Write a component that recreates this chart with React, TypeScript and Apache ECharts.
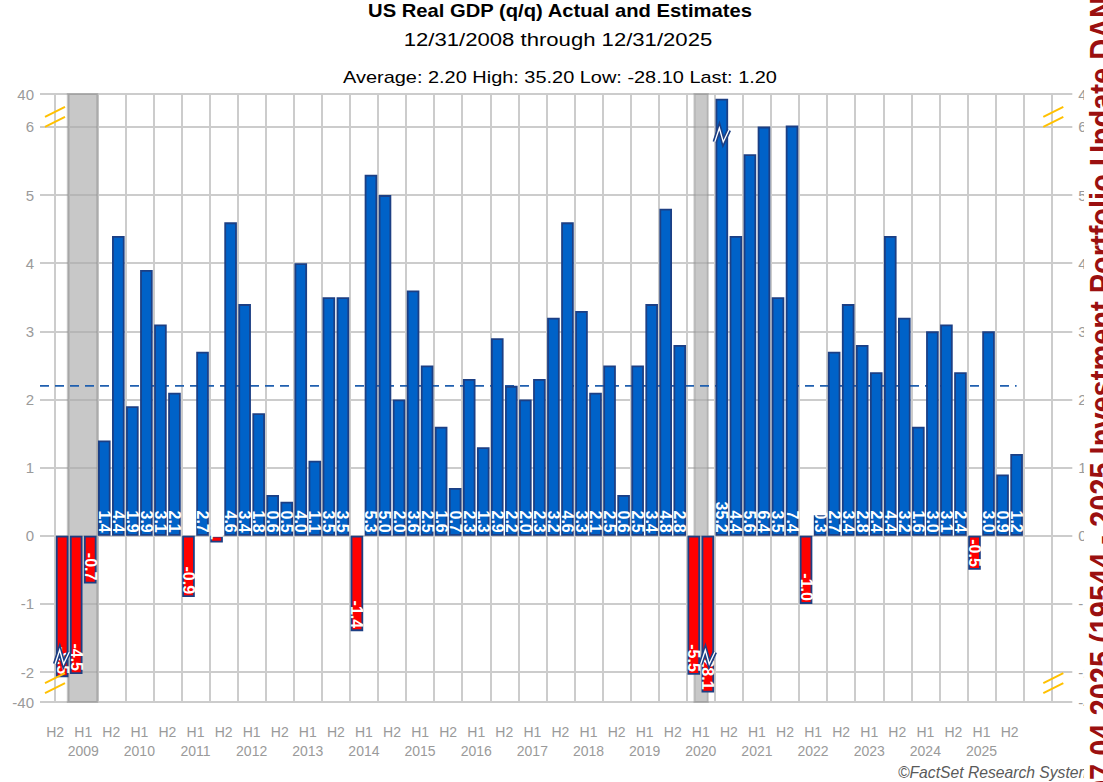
import React, { useEffect, useRef } from 'react';
import * as echarts from 'echarts';

// ---------- DATA ----------
const quarters = [
  'Q4 2008',
  'Q1 2009', 'Q2 2009', 'Q3 2009', 'Q4 2009',
  'Q1 2010', 'Q2 2010', 'Q3 2010', 'Q4 2010',
  'Q1 2011', 'Q2 2011', 'Q3 2011', 'Q4 2011',
  'Q1 2012', 'Q2 2012', 'Q3 2012', 'Q4 2012',
  'Q1 2013', 'Q2 2013', 'Q3 2013', 'Q4 2013',
  'Q1 2014', 'Q2 2014', 'Q3 2014', 'Q4 2014',
  'Q1 2015', 'Q2 2015', 'Q3 2015', 'Q4 2015',
  'Q1 2016', 'Q2 2016', 'Q3 2016', 'Q4 2016',
  'Q1 2017', 'Q2 2017', 'Q3 2017', 'Q4 2017',
  'Q1 2018', 'Q2 2018', 'Q3 2018', 'Q4 2018',
  'Q1 2019', 'Q2 2019', 'Q3 2019', 'Q4 2019',
  'Q1 2020', 'Q2 2020', 'Q3 2020', 'Q4 2020',
  'Q1 2021', 'Q2 2021', 'Q3 2021', 'Q4 2021',
  'Q1 2022', 'Q2 2022', 'Q3 2022', 'Q4 2022',
  'Q1 2023', 'Q2 2023', 'Q3 2023', 'Q4 2023',
  'Q1 2024', 'Q2 2024', 'Q3 2024', 'Q4 2024',
  'Q1 2025', 'Q2 2025', 'Q3 2025', 'Q4 2025',
];

const gdp = [
  -8.5,
  -4.5, -0.7, 1.4, 4.4,
  1.9, 3.9, 3.1, 2.1,
  -0.9, 2.7, -0.1, 4.6,
  3.4, 1.8, 0.6, 0.5,
  4.0, 1.1, 3.5, 3.5,
  -1.4, 5.3, 5.0, 2.0,
  3.6, 2.5, 1.6, 0.7,
  2.3, 1.3, 2.9, 2.2,
  2.0, 2.3, 3.2, 4.6,
  3.3, 2.1, 2.5, 0.6,
  2.5, 3.4, 4.8, 2.8,
  -5.5, -28.1, 35.2, 4.4,
  5.6, 6.4, 3.5, 7.4,
  -1.0, 0.3, 2.7, 3.4,
  2.8, 2.4, 4.4, 3.2,
  1.6, 3.0, 3.1, 2.4,
  -0.5, 3.0, 0.9, 1.2,
];

const halfLabels = [
  'H2',
  'H1', 'H2', 'H1', 'H2', 'H1', 'H2', 'H1', 'H2', 'H1', 'H2',
  'H1', 'H2', 'H1', 'H2', 'H1', 'H2', 'H1', 'H2', 'H1', 'H2',
  'H1', 'H2', 'H1', 'H2', 'H1', 'H2', 'H1', 'H2', 'H1', 'H2',
  'H1', 'H2', 'H1', 'H2',
];
const yearLabels = [
  '2009', '2010', '2011', '2012', '2013', '2014', '2015', '2016', '2017',
  '2018', '2019', '2020', '2021', '2022', '2023', '2024', '2025',
];

// recession shading, in quarter-index units (Q4 2008 starts at 0)
const recessions = [
  [0.9, 3.0],
  [45.55, 46.5],
];

// axis breaks (compressed ranges) of the value axis
const breakRanges = [
  [-40, -2],
  [6, 40],
];
const yTickValues = [-40, -2, -1, 0, 1, 2, 3, 4, 5, 6, 40];

const statNames = ['Average', 'High', 'Low', 'Last'];
const statValues = [2.2, 35.2, -28.1, 1.2];

const titleText = 'US Real GDP (q/q) Actual and Estimates';
const periodText = '12/31/2008 through 12/31/2025';
const creditText = '\u00A9FactSet Research Systems';
const watermarkText = '1/07 04 2025 (19544 - 2025 Investment Portfolio Update DAN';

// ---------- STYLE ----------
const BLUE = '#0062C8';
const RED = '#FF0000';
const BORDER = '#1C3F84';
const GRID = '#cccccc';
const LABEL = '#9a9a9a';
const BAR_W = 12.6;
const X_MIN = -1.08;
const X_MAX = 72.47;
const FONT = 'Arial, "Liberation Sans", sans-serif';

const gridXValues: number[] = [0];
for (let i = 1; i <= 71; i += 2) gridXValues.push(i);
const tickXValues: number[] = [];
for (let i = 1; i <= quarters.length; i += 2) tickXValues.push(i);
const labelXValues = halfLabels.map((_, k) => 2 * k);

const barData = gdp.map((v, i) => [i + 0.5, v]);

function deepInBreak(v: number) {
  for (const [s, e] of breakRanges) {
    if (v >= s && v <= e) {
      const inner = Math.abs(s) < Math.abs(e) ? s : e;
      return Math.abs(v - inner) / (e - s) > 0.15;
    }
  }
  return false;
}
const zigzagData = barData.filter(([, v]) => deepInBreak(v));
const breakInner = (v: number) => {
  for (const [s, e] of breakRanges) {
    const inner = Math.abs(s) < Math.abs(e) ? s : e;
    if ((v > 0 && inner > 0) || (v < 0 && inner < 0)) return inner;
  }
  return 0;
};

const statsLine = statNames
  .map((n, i) => `${n}: ${statValues[i].toFixed(2)}`)
  .join(' ');

function buildOption(): any {
  const yAxisCommon = {
    type: 'value',
    min: -40,
    max: 40,
    breaks: [
      { start: breakRanges[0][0], end: breakRanges[0][1], gap: 0.44 },
      { start: breakRanges[1][0], end: breakRanges[1][1], gap: 0.484 },
    ],
    breakArea: { show: false },
    axisLine: { show: false },
    axisTick: { show: false, customValues: yTickValues },
  };
  return {
    animation: false,
    backgroundColor: '#ffffff',
    grid: { left: 40, right: 26, top: 94, bottom: 80, containLabel: false },
    xAxis: [
      {
        type: 'value',
        min: X_MIN,
        max: X_MAX,
        axisLine: { show: false },
        axisTick: { show: false, customValues: gridXValues },
        axisLabel: { show: false },
        splitLine: { show: true, lineStyle: { color: GRID, width: 2 } },
      },
      {
        type: 'value',
        min: X_MIN,
        max: X_MAX,
        position: 'bottom',
        axisLine: { show: false },
        axisTick: {
          show: true,
          customValues: tickXValues,
          length: 15,
          lineStyle: { color: GRID, width: 2 },
        },
        axisLabel: {
          customValues: labelXValues,
          color: LABEL,
          fontSize: 14,
          fontFamily: FONT,
          lineHeight: 19,
          margin: 20,
          formatter: (v: number) => {
            const k = Math.round(v / 2);
            const h = halfLabels[k];
            if (h === 'H1') return `${h}\n${yearLabels[(k - 1) / 2]}`;
            return h;
          },
        },
        splitLine: { show: false },
      },
    ],
    yAxis: [
      {
        ...yAxisCommon,
        position: 'left',
        axisLabel: {
          customValues: yTickValues,
          color: LABEL,
          fontSize: 15,
          fontFamily: FONT,
          margin: 6,
        },
        splitLine: { show: true, lineStyle: { color: GRID, width: 2 } },
      },
      {
        ...yAxisCommon,
        position: 'right',
        axisLabel: {
          customValues: yTickValues,
          color: LABEL,
          fontSize: 15,
          fontFamily: FONT,
          margin: 6,
        },
        splitLine: { show: false },
      },
    ],
    series: [
      {
        name: 'Average',
        type: 'line',
        xAxisIndex: 0,
        yAxisIndex: 0,
        z: 1,
        symbol: 'none',
        silent: true,
        data: [
          [X_MIN, statValues[0]],
          [barData[barData.length - 1][0], statValues[0]],
        ],
        lineStyle: { color: '#1F5FAF', width: 1.6, type: [9, 6] },
      },
      {
        name: 'GDP',
        type: 'bar',
        xAxisIndex: 0,
        yAxisIndex: 0,
        z: 2,
        barWidth: BAR_W,
        data: barData,
        itemStyle: {
          color: (p: any) => (p.value[1] < 0 ? RED : BLUE),
          borderColor: BORDER,
          borderWidth: 1.8,
        },
        label: {
          show: true,
          position: 'insideBottom',
          distance: 3,
          rotate: -90,
          align: 'right',
          verticalAlign: 'middle',
          color: '#ffffff',
          fontSize: 16,
          fontWeight: 'bold',
          fontFamily: FONT,
          formatter: (p: any) => p.value[1].toFixed(1),
        },
        markArea: {
          silent: true,
          z: 1,
          itemStyle: {
            color: 'rgba(169,169,169,0.64)',
            borderColor: 'rgba(140,140,140,0.45)',
            borderWidth: 2,
          },
          data: recessions.map(([a, b]) => [{ xAxis: a }, { xAxis: b }]),
        },
      },
      {
        name: 'zigzag',
        type: 'custom',
        xAxisIndex: 0,
        yAxisIndex: 0,
        z: 4,
        silent: true,
        data: zigzagData,
        renderItem: (params: any, api: any) => {
          const x = api.value(0);
          const v = api.value(1);
          const inner = breakInner(v);
          const p = api.coord([x, inner]);
          const hw = BAR_W / 2 + 0.8;
          const c = p[1] + (v > 0 ? 9 : -14);
          const pts = [
            [p[0] - hw, c + 6],
            [p[0] - hw * 0.35, c - 8],
            [p[0] + hw * 0.2, c + 6],
            [p[0] + hw, c - 6],
          ];
          return {
            type: 'group',
            children: [
              { type: 'polyline', shape: { points: pts }, style: { stroke: BORDER, lineWidth: 4.5, fill: 'none' } },
              { type: 'polyline', shape: { points: pts }, style: { stroke: '#ffffff', lineWidth: 1.3, fill: 'none' } },
            ],
          };
        },
      },
      {
        name: 'breakMarks',
        type: 'custom',
        xAxisIndex: 0,
        yAxisIndex: 0,
        z: 4,
        silent: true,
        encode: { x: 0, y: 1 },
        data: breakRanges.map(([s, e]) => [X_MIN, s, e]),
        renderItem: (params: any, api: any) => {
          const s = api.value(1);
          const e = api.value(2);
          const inner = Math.abs(s) < Math.abs(e) ? s : e;
          const yB = api.coord([X_MIN, inner])[1];
          const c = yB + (inner < 0 ? 11 : -10);
          const cs = params.coordSys;
          const xs = [cs.x + 5, cs.x + cs.width - 29];
          const st = { stroke: '#FFC000', lineWidth: 2 };
          const children: any[] = [];
          xs.forEach((x0) => {
            children.push({ type: 'line', shape: { x1: x0, y1: c, x2: x0 + 20, y2: c - 10 }, style: st });
            children.push({ type: 'line', shape: { x1: x0, y1: c + 10, x2: x0 + 20, y2: c }, style: st });
          });
          return { type: 'group', children };
        },
      },
    ],
    graphic: [
      {
        type: 'text',
        x: 560,
        y: 10.6,
        scaleX: 1.155,
        style: { text: titleText, font: `bold 17.5px ${FONT}`, fill: '#000', textAlign: 'center', textVerticalAlign: 'middle' },
      },
      {
        type: 'text',
        x: 558,
        y: 40.1,
        scaleX: 1.195,
        style: { text: periodText, font: `18.5px ${FONT}`, fill: '#000', textAlign: 'center', textVerticalAlign: 'middle' },
      },
      {
        type: 'text',
        x: 560,
        y: 77.4,
        scaleX: 1.173,
        style: { text: statsLine, font: `17px ${FONT}`, fill: '#000', textAlign: 'center', textVerticalAlign: 'middle' },
      },
      {
        type: 'text',
        x: 898,
        y: 772.5,
        scaleX: 0.98,
        style: { text: creditText, font: `italic 16px ${FONT}`, fill: '#5a5a5a', textAlign: 'left', textVerticalAlign: 'middle' },
      },
      {
        type: 'text',
        x: 1101,
        y: -3,
        z: 100,
        rotation: Math.PI / 2,
        scaleY: 1.17,
        style: {
          text: watermarkText,
          font: `bold 29px ${FONT}`,
          fill: '#9B1010',
          textAlign: 'right',
          textVerticalAlign: 'middle',
          backgroundColor: '#ffffff',
          padding: [0, 0],
        },
      },
    ],
  };
}

export default function App() {
  const ref = useRef<HTMLDivElement>(null);
  useEffect(() => {
    if (!ref.current) return;
    const chart = echarts.init(ref.current, null, { renderer: 'svg' });
    chart.setOption(buildOption());
    return () => {
      chart.dispose();
    };
  }, []);
  return (
    <div
      ref={ref}
      style={{ position: 'absolute', left: 0, top: 0, width: 1103, height: 782, background: '#fff' }}
    />
  );
}
